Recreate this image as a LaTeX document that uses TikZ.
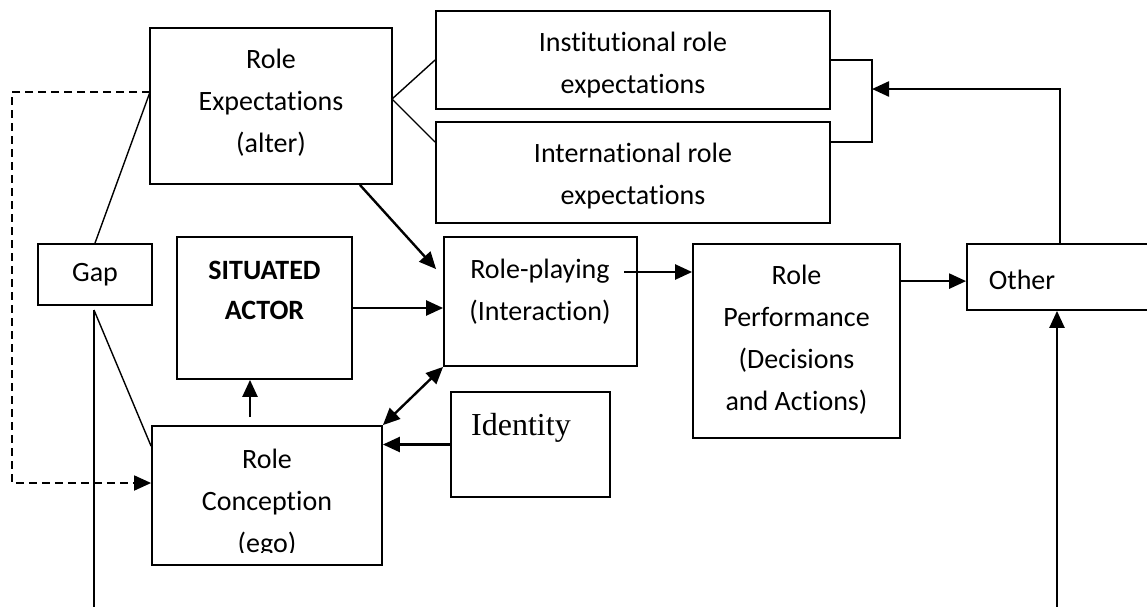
\documentclass[tikz,border=0pt]{standalone}
\usepackage{fontspec}
\setmainfont{Carlito}[Ligatures=NoCommon]
\newfontfamily\timesfont{Liberation Serif}
\usetikzlibrary{positioning,arrows.meta,calc}

\begin{document}
\begin{tikzpicture}[x=0.5pt, y=-0.5pt,
    >={Triangle[length=8.5pt,width=7.5pt]},
    box/.style={draw, line width=0.9pt, rectangle, inner sep=0pt},
    txt/.style={align=center, font=\fontsize{14}{21}\selectfont},
    arr/.style={->, line width=1.2pt},
    thin/.style={line width=0.7pt}]
    \clip (0,0) rectangle (1147,606);

    % boxes
    \node (rexp) [box, minimum width=121pt, minimum height=78pt] at (271,106) {};
    \node (inst) [box, minimum width=197pt, minimum height=49pt] at (633,60) {};
    \node (intl) [box, minimum width=197pt, minimum height=50.5pt] at (633,172.5) {};
    \node (gap) [box, minimum width=57pt, minimum height=30.5pt] at (95,274.5) {};
    \node (actor) [box, minimum width=87.5pt, minimum height=71pt] at (264.5,308) {};
    \node (play) [box, minimum width=96.5pt, minimum height=64.5pt] at (540.5,301.5) {};
    \node (perf) [box, minimum width=103.5pt, minimum height=97pt] at (796.5,341) {};
    \node (other) [box, minimum width=106.5pt, minimum height=33pt] at (1073.5,277) {};
    \node (ident) [box, minimum width=79.5pt, minimum height=52.5pt] at (530.5,444.5) {};
    \node (conc) [box, minimum width=115pt, minimum height=69.5pt] at (267,495.5) {};

    % texts
    \node [txt] at (271,103) {Role\\Expectations\\(alter)};
    \node [txt] at (633,65) {Institutional role\\expectations};
    \node [txt] at (633,176) {International role\\expectations};
    \node [txt] at (95,275) {Gap};
    \node [txt, font=\fontsize{14}{20}\selectfont\bfseries] at (264.5,290) {SITUATED\\ACTOR};
    \node [txt] at (540,292) {Role-playing\\(Interaction)};
    \node [txt] at (796.5,340) {Role\\Performance\\(Decisions\\and Actions)};
    \node [txt] at (1022,280) {Other};
    \node [font=\timesfont\fontsize{16}{19}\selectfont] at (521,428) {Identity};
    \begin{scope}
        \clip (conc.north west) rectangle (382,552);
        \node [txt] at (267,503) {Role\\Conception\\(ego)};
    \end{scope}

    % free ends
    \coordinate (rexpW) at (150,92);
    \coordinate (rexpE) at (392,99);
    \coordinate (dashTop) at (12,92);
    \coordinate (dashBot) at (12,483);
    \coordinate (gapFoot) at (94,310);
    \coordinate (leftEnd) at (94,610);
    \coordinate (rightEnd) at (1057,610);
    \coordinate (otherTop) at (1060,244);
    \coordinate (bracket) at (872,89);
    \coordinate (actorUp) at (250,417);
    \coordinate (playR) at (624,272);
    \coordinate (perfOut) at ($(perf.north east)+(0,38)$);

    % plain lines
    \draw[thin] (gap.north) -- (rexpW);
    \draw[thin] (gapFoot) -- ($(conc.north west)+(0,21)$);
    \draw[line width=0.9pt] (gapFoot) -- (leftEnd);
    \draw[thin] (inst.west) -- (rexpE) -- ($(intl.north west)+(0,21)$);
    \draw[thin] (inst.east) -| ($(intl.north east)+(41,21)$) -- ($(intl.north east)+(0,21)$);
    \draw[arr, line width=0.9pt, dash pattern=on 4pt off 2.5pt] (rexpW) -- (dashTop) -- (dashBot) -- (dashBot -| conc.west);

    % arrows
    \draw[arr] (otherTop) |- (bracket);
    \draw[arr] ($(rexp.south east)+(-33,0)$) -- ($(play.north west)+(-7,33)$);
    \draw[arr] (actor.east) -- (actor.east -| play.west);
    \draw[arr] (playR) -- (playR -| perf.west);
    \draw[arr] (perfOut) -- (perfOut -| other.west);
    \draw[arr] (rightEnd) -- (rightEnd |- other.south);
    \draw[arr] (actorUp) -- (actorUp |- actor.south);
    \draw[arr, <->] (conc.north east) -- (play.south west);
    \draw[arr] (ident.west) -- (ident.west -| conc.east);
\end{tikzpicture}
\end{document}
